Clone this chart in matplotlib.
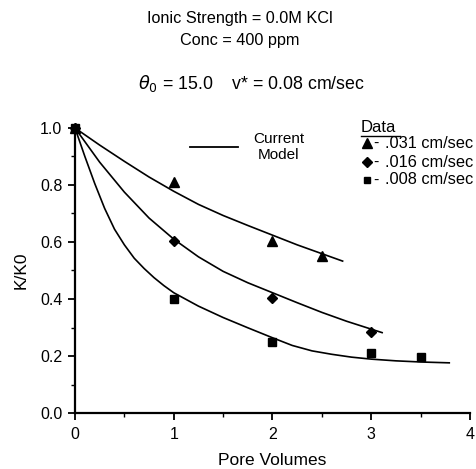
import matplotlib
matplotlib.use("Agg")
import matplotlib.pyplot as plt
from matplotlib.lines import Line2D
from matplotlib.ticker import MultipleLocator, FormatStrFormatter

plt.rcParams['font.family'] = ['Liberation Sans', 'DejaVu Sans']

# Data points
tri_x = [0, 1, 2, 2.5]
tri_y = [1.0, 0.81, 0.605, 0.55]
dia_x = [0, 1, 2, 3]
dia_y = [1.0, 0.605, 0.405, 0.285]
sq_x = [0, 1, 2, 3, 3.5]
sq_y = [1.0, 0.40, 0.25, 0.21, 0.195]

# Model curves
m1_x = [0, 0.25, 0.5, 0.75, 1.0, 1.25, 1.5, 1.75, 2.0, 2.25, 2.5, 2.71]
m1_y = [1.0, 0.94, 0.883, 0.828, 0.778, 0.732, 0.693, 0.658, 0.624, 0.59, 0.559, 0.533]
m2_x = [0, 0.25, 0.5, 0.75, 1.0, 1.25, 1.5, 1.75, 2.0, 2.25, 2.5, 2.75, 3.11]
m2_y = [1.0, 0.88, 0.775, 0.684, 0.61, 0.548, 0.497, 0.457, 0.422, 0.387, 0.353, 0.322, 0.282]
m3_x = [0, 0.1, 0.2, 0.3, 0.4, 0.5, 0.6, 0.7, 0.8, 0.9, 1.0, 1.25, 1.5, 1.75, 2.0,
        2.2, 2.4, 2.6, 2.8, 3.0, 3.25, 3.5, 3.79]
m3_y = [1.0, 0.9, 0.805, 0.718, 0.645, 0.59, 0.543, 0.507, 0.475, 0.447, 0.422, 0.375, 0.335,
        0.299, 0.264, 0.237, 0.218, 0.206, 0.196, 0.189, 0.183, 0.179, 0.176]

fig = plt.figure(figsize=(4.77, 4.69), dpi=100)
ax = fig.add_axes([75/477, 56/469, 395/477, 285/469])

for xs, ys in [(m1_x, m1_y), (m2_x, m2_y), (m3_x, m3_y)]:
    ax.plot(xs, ys, color='black', lw=1.2, clip_on=False, solid_joinstyle='round')

ax.plot(tri_x, tri_y, '^', color='black', ms=7, clip_on=False, zorder=5)
ax.plot(dia_x, dia_y, 'D', color='black', ms=5.5, clip_on=False, zorder=5)
ax.plot(sq_x, sq_y, 's', color='black', ms=6, clip_on=False, zorder=5)

ax.set_xlim(0, 4)
ax.set_ylim(0, 1.0)
ax.spines['top'].set_visible(False)
ax.spines['right'].set_visible(False)
ax.spines['left'].set_linewidth(1.6)
ax.spines['bottom'].set_linewidth(1.6)
ax.xaxis.set_major_locator(MultipleLocator(1))
ax.xaxis.set_minor_locator(MultipleLocator(0.5))
ax.yaxis.set_major_locator(MultipleLocator(0.2))
ax.yaxis.set_minor_locator(MultipleLocator(0.1))
ax.yaxis.set_major_formatter(FormatStrFormatter('%.1f'))
ax.tick_params(axis='both', which='major', length=5, width=1.3, labelsize=11.5, direction='out')
ax.tick_params(axis='both', which='minor', length=3, width=1.0, direction='out')
ax.tick_params(axis='x', pad=5)
ax.tick_params(axis='y', pad=4)

ax.set_xlabel('Pore Volumes', fontsize=12.5, labelpad=8)
ax.set_ylabel('K/K0', fontsize=12.5, labelpad=8)

# Titles
fig.text(240/477, 1 - 18/469, 'Ionic Strength = 0.0M KCl', ha='center', va='center', fontsize=11.7)
fig.text(240/477, 1 - 40/469, 'Conc = 400 ppm', ha='center', va='center', fontsize=11.7)
fig.text(252/477, 1 - 83/469, r'$\theta_0$ = 15.0    v* = 0.08 cm/sec', ha='center', va='center', fontsize=12.8)

# Legend-like annotation
fig.add_artist(Line2D([190/477, 238/477], [1 - 147/469, 1 - 147/469], color='black', lw=1.3,
                      transform=fig.transFigure))
fig.text(279/477, 1 - 139/469, 'Current', ha='center', va='center', fontsize=11)
fig.text(279/477, 1 - 155/469, 'Model', ha='center', va='center', fontsize=11)

fig.text(361/477, 1 - 127/469, 'Data', ha='left', va='center', fontsize=12)
fig.add_artist(Line2D([361/477, 400/477], [1 - 136/469, 1 - 136/469], color='black', lw=1.0,
                      transform=fig.transFigure))

rows = [('^', 7, '.031 cm/sec', 143), ('D', 5, '.016 cm/sec', 162), ('s', 5, '.008 cm/sec', 180)]
for mk, ms, label, yy in rows:
    fig.add_artist(Line2D([367/477], [1 - yy/469], marker=mk, ms=ms, color='black', ls='none',
                          transform=fig.transFigure))
    fig.text(373/477, 1 - yy/469, '-', ha='left', va='center', fontsize=11.5)
    fig.text(385/477, 1 - yy/469, label, ha='left', va='center', fontsize=11.8)

fig.savefig('out.png', dpi=100)
